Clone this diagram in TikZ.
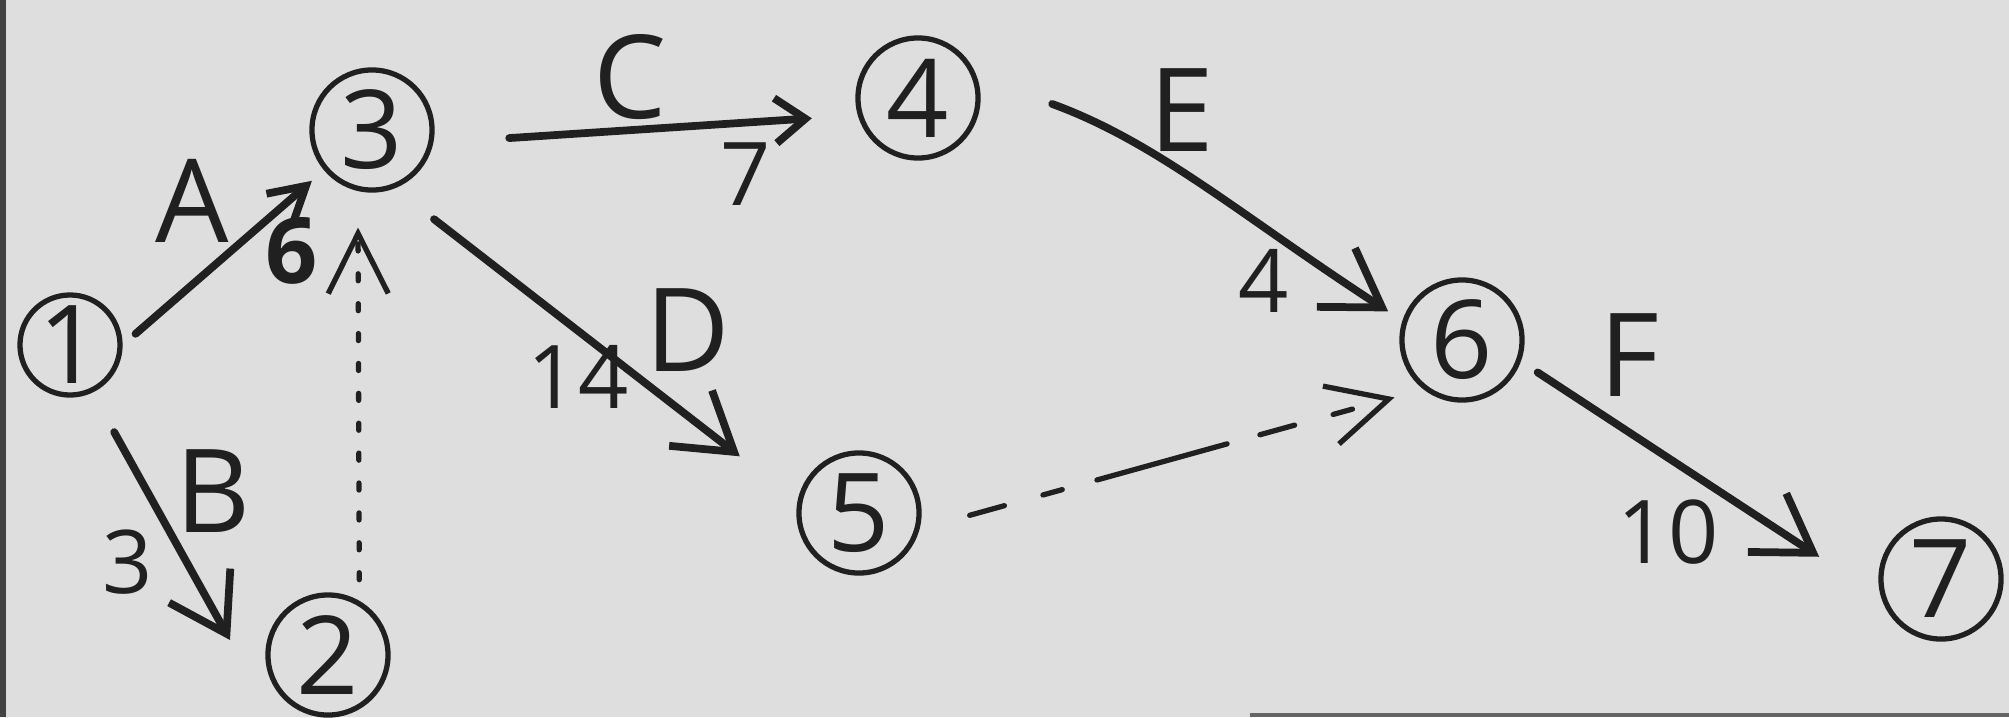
\documentclass[tikz,border=0pt]{standalone}
\usepackage{fontspec}
\setsansfont{Open Sans}
\usepackage{tikz}
\usetikzlibrary{arrows.meta}
\definecolor{paper}{RGB}{222,222,222}
\definecolor{ink}{RGB}{32,32,32}

\begin{document}
\begin{tikzpicture}[x=0.01cm, y=0.01cm, line cap=round,
  event/.style={circle, draw=ink, line width=1.5pt, minimum size=1.2cm,
    inner sep=0pt, text=ink, font=\fontsize{31}{36}\selectfont\sffamily},
  actname/.style={inner sep=0pt, text=ink, font=\fontsize{33}{40}\selectfont\sffamily},
  dur/.style={inner sep=0pt, text=ink, font=\fontsize{25}{30}\selectfont\sffamily},
  act/.style={ink, line width=2.2pt, -{Straight Barb[length=5.5mm, width=7mm]}},
  dummy/.style={ink, line width=1.5pt, -{Straight Barb[length=6mm, width=6mm]}}]
% paper
\fill[paper] (0,0) rectangle (2009,717);
\fill[ink!85] (0,0) rectangle (6,717);
\fill[ink!70] (1250,0) rectangle (2009,4);
\useasboundingbox (0,0) rectangle (2009,717);

% events
\node[event, minimum size=1.0cm] (e1) at (70,372) {1};
\node[event] (e2) at (328,62) {2};
\node[event] (e3) at (372,587) {3};
\node[event] (e4) at (918,619) {4};
\node[event] (e5) at (859,204) {5};
\node[event] (e6) at (1462,377) {6};
\node[event] (e7) at (1941,138) {7};

% activities
\draw[act, -{Straight Barb[length=3.5mm, width=4mm]}, shorten <=0.17cm, shorten >=0.16cm]
  (e1.0) -- (e3.220);
\draw[act, shorten <=0.45cm] (e1.295) -- ([shift={(-98,15)}]e2.center);
\draw[act, -{Straight Barb[length=3mm, width=4.5mm]}, shorten <=0.76cm, shorten >=0.46cm]
  (e3.348) -- (e4.196);
\draw[act, shorten <=0.5cm, shorten >=0.73cm] (e3.291) -- (e5.169);
\draw[act, shorten <=0.8cm, shorten >=0.17cm] (e4.20) to[out=-20, in=147] (e6.162);
\draw[act, shorten <=0.2cm, shorten >=0.74cm] (e6.340) -- (e7.197);

% dummies
\draw[dummy, dash pattern=on 2pt off 6.5pt, shorten <=0.21cm, shorten >=0.365cm]
  (e2.60) -- (e3.257);
\draw[dummy, dash pattern=on 0.36cm off 0.4cm on 0.2cm off 0.36cm on 1.35cm off 0.34cm,
  shorten <=0.52cm, shorten >=0.3cm] (e5.345) -- (e6.232);

% names and durations
\node[actname] (lA) at (192,516) {A};
\node[dur, font=\fontsize{26}{30}\selectfont\sffamily\bfseries] (dA) at (292,466) {6};
\node[actname] (lB) at (213,226) {B};
\node[dur] (dB) at (128,155) {3};
\node[actname] (lC) at (630,640) {C};
\node[dur] (dC) at (746,543) {7};
\node[actname] (lD) at (688,387) {D};
\node[dur] (dD) at (578,340) {14};
\node[actname] (lE) at (1182,607) {E};
\node[dur] (dE) at (1264,436) {4};
\node[actname] (lF) at (1629,362) {F};
\node[dur] (dF) at (1668,185) {10};
\end{tikzpicture}
\end{document}
